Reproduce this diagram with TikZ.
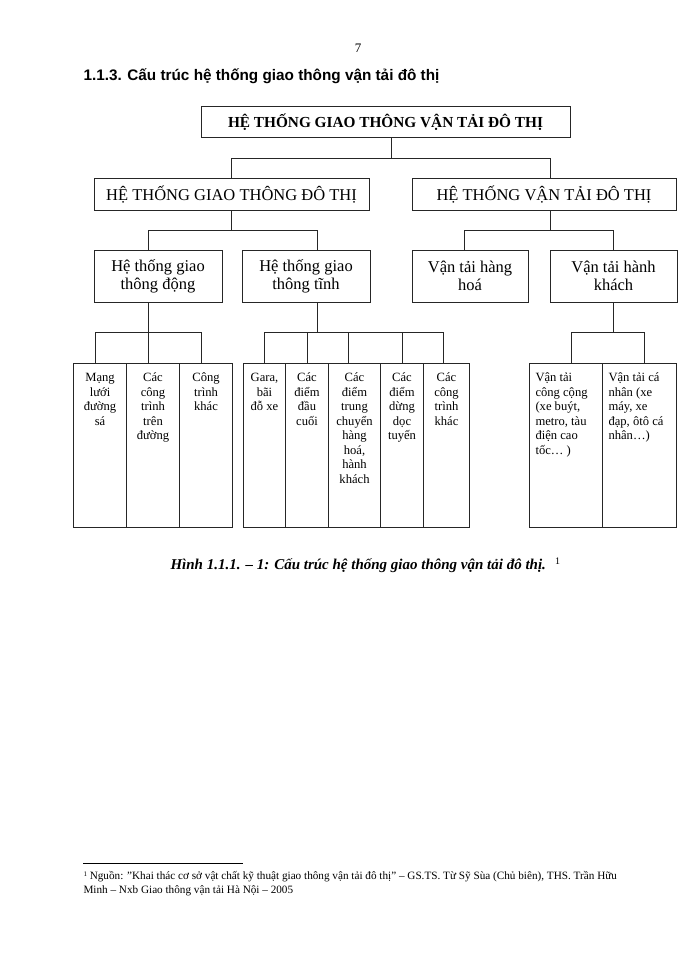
\documentclass[tikz,border=0pt]{standalone}
\usepackage{fontspec}
\setmainfont{Liberation Serif}
\newfontfamily\headfont{Liberation Sans}
\newcommand{\cellc}[2]{\parbox[t][152pt][t]{\dimexpr#1pt-4pt\relax}{\centering\rule{0pt}{12pt}#2}}
\newcommand{\celll}[2]{\parbox[t][152pt][t]{\dimexpr#1pt-12pt\relax}{\raggedright\rule{0pt}{12pt}#2}}
\begin{document}
\begin{tikzpicture}[x=1pt, y=-1pt, line width=1pt,
  topbox/.style={draw=black!85, minimum width=369, minimum height=31, inner sep=0pt,
    font=\fontsize{15.3}{17}\selectfont\bfseries},
  secbox/.style={draw=black!85, minimum height=31, inner sep=0pt,
    font=\fontsize{16.5}{18}\selectfont},
  subbox/.style={draw=black!85, minimum height=52, inner sep=0pt, align=center,
    font=\fontsize{16.5}{18}\selectfont},
  cell/.style={draw=black!85, anchor=north west, inner xsep=2pt, inner ysep=6pt,
    font=\fontsize{12.6}{14.5}\selectfont},
  link/.style={draw=black!85}]
  \useasboundingbox (0,0) rectangle (700,960);
  \node[font=\fontsize{13}{15}\selectfont] (page) at (358,48) {7};
  \node[anchor=west, inner sep=0pt, font=\headfont\fontsize{15.3}{17}\selectfont\bfseries]
    (head) at (83,76) {1.1.3. Cấu trúc hệ thống giao thông vận tải đô thị};
  % top levels
  \node[topbox] (top) at (385.5,122.5) {HỆ THỐNG GIAO THÔNG VẬN TẢI ĐÔ THỊ};
  \node[secbox, minimum width=275] (sysA) at (231.5,194.5) {HỆ THỐNG GIAO THÔNG ĐÔ THỊ};
  \node[secbox, minimum width=264] (sysB) at (544,194.5) {HỆ THỐNG VẬN TẢI ĐÔ THỊ};
  \node[subbox, minimum width=128] (dong) at (158,276) {Hệ thống giao\\thông động};
  \node[subbox, minimum width=128] (tinh) at (306,276) {Hệ thống giao\\thông tĩnh};
  \node[subbox, minimum width=116] (hang) at (470,276) {Vận tải hàng\\hoá};
  \node[subbox, minimum width=127] (khach) at (613.5,276) {Vận tải hành\\khách};
  % columns
  \foreach \i/\x/\w/\txt in {1/73/53/{Mạng\\lưới\\đường\\sá},
      2/126/53/{Các\\công\\trình\\trên\\đường}, 3/179/53/{Công\\trình\\khác}}
    \node[cell] (a\i) at (\x,363) {\cellc{\w}{\txt}};
  \foreach \i/\x/\w/\txt in {1/243/42/{Gara,\\bãi\\đỗ xe}, 2/285/43/{Các\\điểm\\đầu\\cuối},
      3/328/52/{Các\\điểm\\trung\\chuyển\\hàng\\hoá,\\hành\\khách},
      4/380/43/{Các\\điểm\\dừng\\dọc\\tuyến}, 5/423/46/{Các\\công\\trình\\khác}}
    \node[cell] (b\i) at (\x,363) {\cellc{\w}{\txt}};
  \foreach \i/\x/\w/\txt in {1/529/73/{Vận tải\\công cộng\\(xe buýt,\\metro, tàu\\điện cao\\tốc… )},
      2/602/74/{Vận tải cá\\nhân (xe\\máy, xe\\đạp, ôtô cá\\nhân…)}}
    \node[cell, inner xsep=6pt] (c\i) at (\x,363) {\celll{\w}{\txt}};
  % connectors
  \path ([xshift=5.5pt]top.south) ++(0,20) coordinate (bus0);
  \draw[link] ([xshift=5.5pt]top.south) -- (bus0);
  \draw[link] (sysA.north) |- (bus0) -| ([xshift=6pt]sysB.north);
  \path (sysA.south) ++(0,20) coordinate (busA);
  \draw[link] (sysA.south) -- (busA);
  \draw[link] ([xshift=-10pt]dong.north) |- (busA) -| ([xshift=11pt]tinh.north);
  \path ([xshift=6pt]sysB.south) ++(0,20) coordinate (busB);
  \draw[link] ([xshift=6pt]sysB.south) -- (busB);
  \draw[link] ([xshift=-6pt]hang.north) |- (busB) -| (khach.north);
  \path ([xshift=-10pt]dong.south) ++(0,30) coordinate (busD);
  \draw[link] ([xshift=-10pt]dong.south) -- (busD |- a2.north);
  \draw[link] ([xshift=-5pt]a1.north) |- (busD) -| ([xshift=-5pt]a3.north);
  \path ([xshift=11pt]tinh.south) ++(0,30) coordinate (busT);
  \draw[link] ([xshift=11pt]tinh.south) -- (busT);
  \draw[link] (b1.north) |- (busT) -| ([xshift=-3pt]b5.north);
  \foreach \i/\s in {2/0, 3/-6, 4/0}
    \draw[link] ([xshift=\s pt]b\i.north) -- ([xshift=\s pt]b\i.north |- busT);
  \path (khach.south) ++(0,30) coordinate (busK);
  \draw[link] (khach.south) -- (busK);
  \draw[link] ([xshift=5pt]c1.north) |- (busK) -| ([xshift=5pt]c2.north);
  % caption and footnote
  \node[anchor=west, inner sep=0pt] (cap) at (170,565)
    {\fontsize{15}{17}\selectfont\bfseries\itshape Hình 1.1.1. – 1: Cấu trúc hệ thống giao thông vận tải đô thị.\fontsize{10}{12}\selectfont\upshape\mdseries\hspace{9pt}\raisebox{5pt}{1}};
  \coordinate (ruleL) at (83,863);
  \coordinate (ruleR) at (243,863);
  \draw[line width=0.8pt] (ruleL) -- (ruleR);
  \node[anchor=north west, inner sep=0pt, align=left, font=\fontsize{11.2}{14}\selectfont]
    (note) at (83,871) {\raisebox{3pt}{\fontsize{7}{8}\selectfont 1} Nguồn: "Khai thác cơ sở vật chất kỹ thuật giao thông vận tải đô thị" – GS.TS. Từ Sỹ Sùa (Chủ biên), THS. Trần Hữu\\Minh – Nxb Giao thông vận tải Hà Nội – 2005};
\end{tikzpicture}
\end{document}
